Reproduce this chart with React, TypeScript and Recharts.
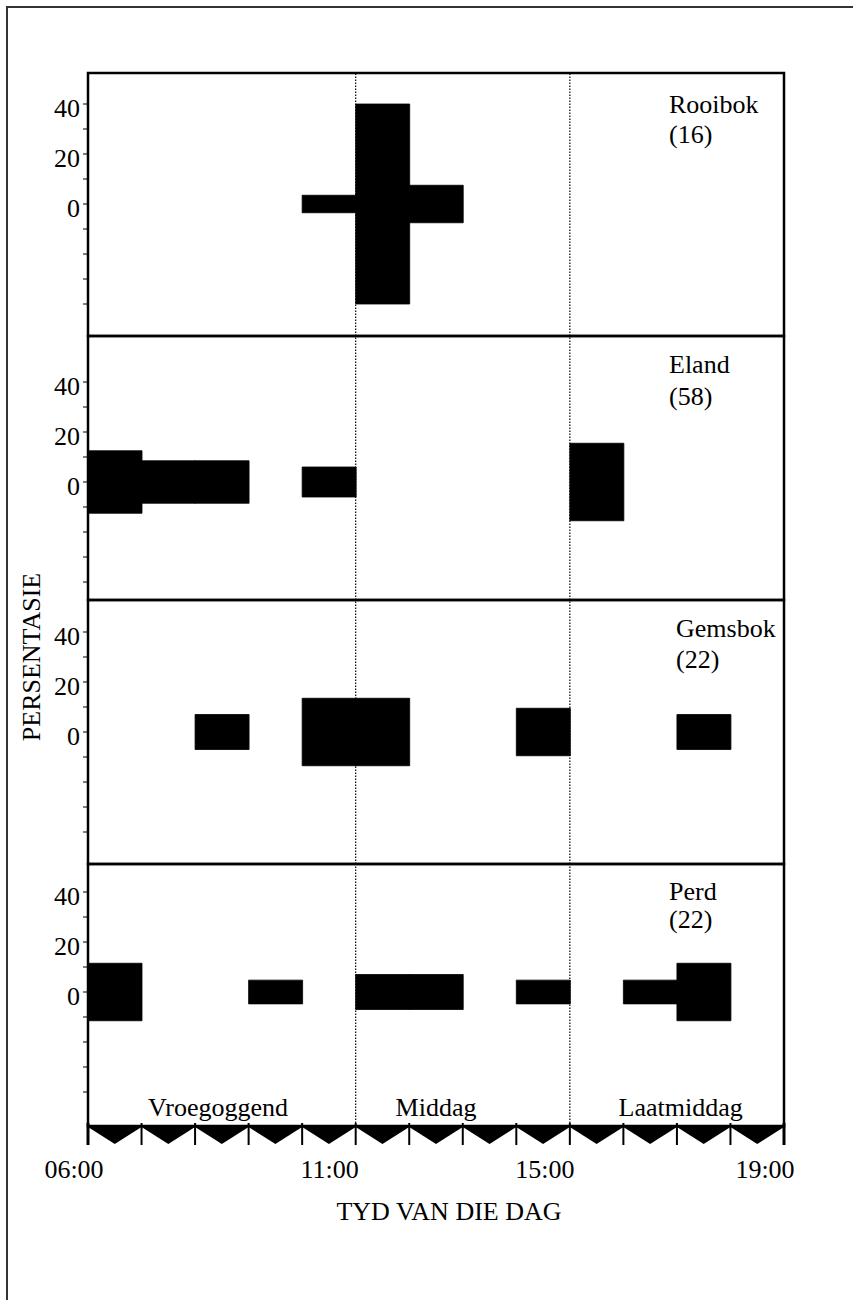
import React from 'react';
import {
  ComposedChart,
  Bar,
  XAxis,
  YAxis,
  ReferenceLine,
  ReferenceArea,
  ReferenceDot,
} from 'recharts';

// ---------- data ----------
const slotLabels = ['06', '07', '08', '09', '10', '11', '12', '13', '14', '15', '16', '17', '18'];
const slotStarts = [6, 7, 8, 9, 10, 11, 12, 13, 14, 15, 16, 17, 18];

const speciesNames = ['Rooibok', 'Eland', 'Gemsbok', 'Perd'];
const speciesCounts = ['(16)', '(58)', '(22)', '(22)'];

// percentage per hourly slot (full kite width, drawn symmetric about 0)
const rooibok = [0, 0, 0, 0, 7, 80, 15, 0, 0, 0, 0, 0, 0];
const eland = [25, 17, 17, 0, 12, 0, 0, 0, 0, 31, 0, 0, 0];
const gemsbok = [0, 0, 14, 0, 27, 27, 0, 0, 19, 0, 0, 14, 0];
const perd = [23, 0, 0, 9.5, 0, 14, 14, 0, 9.5, 0, 9.5, 23, 0];

const yTicks = [-40, -30, -20, -10, 0, 10, 20, 30, 40];
const yLabeled = [0, 20, 40];

const xTicks = [6, 7, 8, 9, 10, 11, 12, 13, 14, 15, 16, 17, 18, 19];
const xTickLabels: Record<number, string> = { 6: '06:00', 11: '11:00', 15: '15:00', 19: '19:00' };

const periodNames = ['Vroegoggend', 'Middag', 'Laatmiddag'];
const periodCenters = [8.43, 12.5, 17.07];
const boundaryHours = [11, 15];

// ---------- layout ----------
const W = 853;
const PLOT_LEFT = 88;
const PLOT_RIGHT = 784;
const HOUR_PX = (PLOT_RIGHT - PLOT_LEFT) / 13;
const M = 10;
const Y_AXIS_W = 60;
const FONT = '"Liberation Serif", "Times New Roman", Times, serif';
const FS = 26;

const panelTops = [73, 336, 600, 864];
const panelBottoms = [336, 600, 864, 1126];
const panelDomains: [number, number][] = [
  [-52.8, 52.4],
  [-47.2, 58.4],
  [-52.8, 52.8],
  [-53.6, 51.2],
];
const labelX = [669, 669, 676, 669];
const nameBase = [113, 373, 637, 900];
const countBase = [143, 405, 668, 928];
const xLabelDx: Record<number, number> = { 6: -14, 11: -26, 15: -25, 19: -19 };

const seriesList = [rooibok, eland, gemsbok, perd];

const YTick = (props: any) => {
  const { x, y, payload } = props;
  if (!yLabeled.includes(payload.value)) return <g />;
  return (
    <text x={x} y={y} dy={13} textAnchor="end" fontSize={FS} fontFamily={FONT} fill="#000">
      {payload.value}
    </text>
  );
};

const XTick = (props: any) => {
  const { x, y, payload } = props;
  const v = payload.value;
  const lbl = xTickLabels[v];
  return (
    <g>
      {v < 19 && (
        <polygon
          points={`${x},${y + 1} ${x + HOUR_PX},${y + 1} ${x + HOUR_PX / 2},${y + 18}`}
          fill="#000"
        />
      )}
      <line
        x1={x}
        x2={x}
        y1={y - 3}
        y2={y + 19}
        stroke="#000"
        strokeWidth={v === 6 || v === 19 ? 3 : 2}
      />
      {lbl && (
        <text
          x={x + (xLabelDx[v] || 0)}
          y={y + 52}
          textAnchor="middle"
          fontSize={FS}
          fontFamily={FONT}
          fill="#000"
        >
          {lbl}
        </text>
      )}
    </g>
  );
};

const periodLabel = (props: any) => {
  const { viewBox, value } = props;
  if (!viewBox) return null;
  const cx = viewBox.x + (viewBox.width || 0) / 2;
  const cy = viewBox.y + (viewBox.height || 0) / 2;
  return (
    <text x={cx} y={cy} textAnchor="middle" fontSize={FS} fontFamily={FONT} fill="#000">
      {value}
    </text>
  );
};

function Panel({ idx }: { idx: number }) {
  const values = seriesList[idx];
  const [lo, hi] = panelDomains[idx];
  const isBottom = idx === 3;
  const plotH = panelBottoms[idx] - panelTops[idx];
  const axisH = isBottom ? 80 : 0;
  const height = M + plotH + axisH + M;
  const data = slotLabels.map((s, i) => ({
    slot: s,
    h: slotStarts[i],
    range: values[i] > 0 ? [-values[i] / 2, values[i] / 2] : null,
  }));
  return (
    <div style={{ position: 'absolute', left: 0, top: panelTops[idx] - M }}>
      <ComposedChart
        width={W}
        height={height}
        data={data}
        margin={{ top: M, right: W - PLOT_RIGHT, bottom: M, left: PLOT_LEFT - Y_AXIS_W }}
        barCategoryGap={0}
        barGap={0}
      >
        <XAxis
          xAxisId="num"
          dataKey="h"
          type="number"
          orientation="bottom"
          domain={[6, 19]}
          allowDataOverflow
          ticks={xTicks}
          interval={0}
          hide={!isBottom}
          height={axisH}
          axisLine={false}
          tickLine={false}
          tickSize={0}
          tickMargin={0}
          tick={<XTick />}
        />
        <XAxis xAxisId="cat" dataKey="slot" type="category" orientation="top" hide />
        <YAxis
          type="number"
          domain={[lo, hi]}
          allowDataOverflow
          ticks={yTicks}
          interval={0}
          width={Y_AXIS_W}
          axisLine={false}
          tickLine={{ stroke: '#000', strokeWidth: 1 }}
          tickSize={5}
          tickMargin={3}
          tick={<YTick />}
        />
        <ReferenceArea
          xAxisId="num"
          x1={6}
          x2={19}
          y1={lo}
          y2={hi}
          fill="none"
          fillOpacity={0}
          stroke="#000"
          strokeWidth={2.5}
        />
        {boundaryHours.map((b) => (
          <ReferenceLine
            key={b}
            xAxisId="num"
            x={b}
            stroke="#000"
            strokeWidth={1.2}
            strokeDasharray="1.5 1.5"
          />
        ))}
        <Bar
          xAxisId="cat"
          dataKey="range"
          fill="#000"
          stroke="#000"
          strokeWidth={0.8}
          isAnimationActive={false}
        />
        {isBottom &&
          periodNames.map((p, i) => (
            <ReferenceDot
              key={p}
              xAxisId="num"
              x={periodCenters[i]}
              y={-49.6}
              r={1}
              fill="none"
              stroke="none"
              label={{ value: p, content: periodLabel }}
            />
          ))}
      </ComposedChart>
    </div>
  );
}

export default function App() {
  return (
    <div
      style={{
        position: 'absolute',
        left: 0,
        top: 0,
        width: W,
        height: 1300,
        overflow: 'hidden',
        background: '#fff',
      }}
    >
      <div
        style={{
          position: 'absolute',
          left: 6,
          top: 6,
          width: 900,
          height: 1400,
          borderLeft: '2px solid #333',
          borderTop: '2px solid #333',
        }}
      />
      {[0, 1, 2, 3].map((i) => (
        <Panel key={i} idx={i} />
      ))}
      <svg
        width={W}
        height={1300}
        style={{ position: 'absolute', left: 0, top: 0, pointerEvents: 'none' }}
      >
        {speciesNames.map((n, i) => (
          <g key={n}>
            <text x={labelX[i]} y={nameBase[i]} fontSize={FS} fontFamily={FONT} fill="#000">
              {n}
            </text>
            <text x={labelX[i]} y={countBase[i]} fontSize={FS} fontFamily={FONT} fill="#000">
              {speciesCounts[i]}
            </text>
          </g>
        ))}
        <text
          x={40}
          y={657}
          transform="rotate(-90, 40, 657)"
          textAnchor="middle"
          fontSize={FS}
          fontFamily={FONT}
          fill="#000"
        >
          PERSENTASIE
        </text>
        <text x={449} y={1220} textAnchor="middle" fontSize={FS} fontFamily={FONT} fill="#000">
          TYD VAN DIE DAG
        </text>
      </svg>
    </div>
  );
}
